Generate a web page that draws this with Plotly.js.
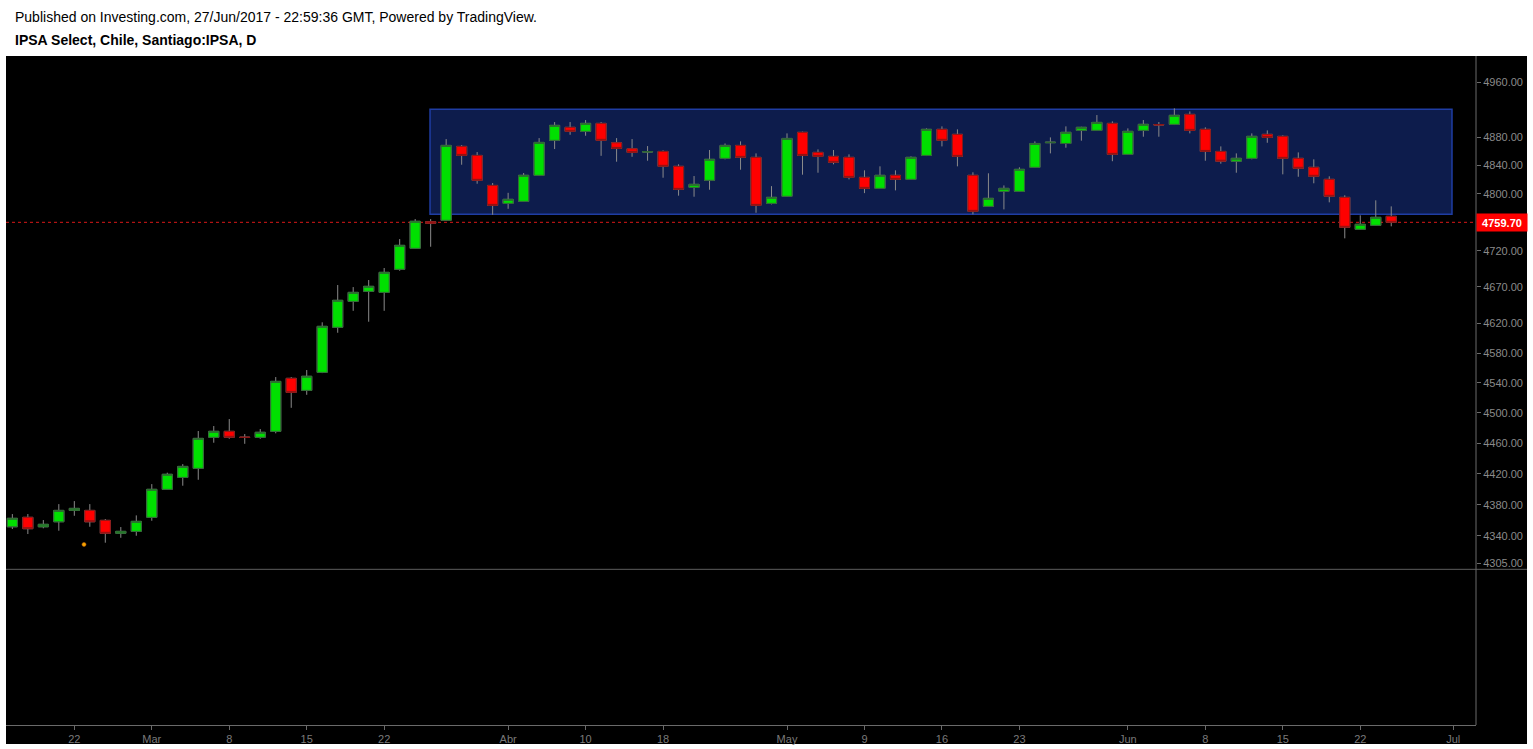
<!DOCTYPE html>
<html>
<head>
<meta charset="utf-8">
<script src="https://cdn.plot.ly/plotly-3.0.1.min.js"></script>
<style>
  html, body { margin: 0; padding: 0; background: #ffffff; }
  #chart { width: 1533px; height: 749px; }
</style>
</head>
<body>
<div id="chart"></div>
<script>
// ---- Data (daily candles, IPSA) ----
const dates = [
  '2017-02-16','2017-02-17','2017-02-20','2017-02-21','2017-02-22','2017-02-23','2017-02-24','2017-02-27','2017-02-28',
  '2017-03-01','2017-03-02','2017-03-03','2017-03-06','2017-03-07','2017-03-08','2017-03-09','2017-03-10',
  '2017-03-13','2017-03-14','2017-03-15','2017-03-16','2017-03-17','2017-03-20','2017-03-21','2017-03-22','2017-03-23','2017-03-24',
  '2017-03-27','2017-03-28','2017-03-29','2017-03-30','2017-03-31',
  '2017-04-03','2017-04-04','2017-04-05','2017-04-06','2017-04-07','2017-04-10','2017-04-11','2017-04-12','2017-04-13',
  '2017-04-17','2017-04-18','2017-04-19','2017-04-20','2017-04-21','2017-04-24','2017-04-25','2017-04-26','2017-04-27',
  '2017-05-02','2017-05-03','2017-05-04','2017-05-05','2017-05-08','2017-05-09','2017-05-10','2017-05-11','2017-05-12',
  '2017-05-15','2017-05-16','2017-05-17','2017-05-18','2017-05-19','2017-05-22','2017-05-23','2017-05-24','2017-05-25','2017-05-26',
  '2017-05-29','2017-05-30','2017-05-31','2017-06-01','2017-06-02','2017-06-05','2017-06-06','2017-06-07','2017-06-08','2017-06-09',
  '2017-06-12','2017-06-13','2017-06-14','2017-06-15','2017-06-16','2017-06-19','2017-06-20','2017-06-21','2017-06-22','2017-06-23',
  '2017-06-27'
];
const openP = [
  4351.6,4363.7,4351.6,4358.0,4372.6,4372.6,4359.8,4343.2,4345.7,
  4363.7,4399.8,4415.3,4427.1,4467.7,4475.6,4468.0,4467.7,
  4475.6,4546.0,4529.9,4554.0,4614.8,4650.2,4663.9,4662.5,4694.3,4723.4,
  4760.6,4762.5,4867.3,4854.4,4811.7,
  4786.3,4789.2,4826.0,4876.0,4894.7,4888.9,4900.4,4872.5,4863.9,
  4859.2,4860.1,4838.8,4808.9,4818.9,4850.2,4868.7,4851.6,4786.3,
  4796.3,4887.5,4858.7,4853.0,4851.6,4823.1,4807.5,4826.0,4820.3,
  4854.4,4891.8,4884.6,4826.0,4782.1,4803.3,4803.3,4837.4,4872.6,4871.5,
  4890.3,4890.3,4900.4,4855.9,4890.3,4898.7,4899.0,4913.4,4891.8,4860.1,
  4846.1,4850.2,4884.6,4881.7,4850.2,4837.4,4820.3,4794.8,4749.9,4755.5,
  4768.1
];
const highP = [
  4367.9,4367.9,4360.2,4380.7,4384.6,4380.7,4361.5,4351.2,4366.2,
  4406.6,4421.4,4432.6,4476.0,4482.6,4491.8,4472.0,4478.6,
  4547.7,4547.7,4557.1,4621.6,4672.6,4669.8,4679.5,4696.1,4736.3,4764.3,
  4764.3,4877.8,4869.1,4859.2,4815.1,
  4801.2,4829.3,4879.2,4902.3,4902.3,4905.2,4902.3,4879.2,4877.8,
  4867.8,4861.6,4841.7,4825.0,4862.1,4871.5,4874.5,4857.3,4810.7,
  4886.0,4888.5,4863.0,4862.1,4855.9,4833.1,4838.8,4833.1,4853.0,
  4893.2,4896.1,4891.8,4830.3,4828.9,4811.7,4837.4,4874.5,4880.2,4896.1,
  4895.5,4912.4,4903.3,4893.2,4905.2,4902.3,4922.1,4917.7,4894.7,4867.3,
  4857.3,4886.0,4890.3,4883.1,4858.7,4848.8,4824.6,4797.7,4769.5,4790.6,
  4782.1
];
const lowP = [
  4348.7,4342.3,4349.6,4346.5,4365.7,4351.6,4331.2,4337.5,4340.1,
  4359.3,4399.0,4404.5,4412.2,4460.6,4465.8,4459.2,4465.8,
  4473.0,4506.7,4524.0,4553.0,4607.4,4637.3,4622.4,4637.3,4692.3,4722.5,
  4725.6,4761.5,4841.1,4814.1,4770.3,
  4778.7,4788.5,4825.0,4863.5,4884.0,4882.6,4853.8,4845.4,4852.4,
  4846.8,4822.6,4797.2,4795.7,4805.6,4848.8,4834.0,4773.1,4784.9,
  4795.5,4826.9,4829.7,4841.7,4820.3,4800.8,4806.8,4804.7,4819.5,
  4853.5,4867.3,4838.8,4770.9,4781.3,4777.9,4802.5,4836.8,4857.3,4865.4,
  4875.5,4889.5,4846.1,4855.0,4881.2,4881.2,4898.0,4886.0,4846.8,4842.6,
  4829.7,4848.8,4872.5,4827.4,4824.0,4814.7,4787.8,4737.3,4749.0,4754.8,
  4754.1
];
const closeP = [
  4362.4,4349.1,4354.7,4372.6,4375.2,4358.0,4343.2,4345.7,4358.5,
  4399.8,4419.3,4429.6,4466.3,4475.6,4467.7,4467.5,4474.3,
  4541.9,4527.2,4548.7,4616.1,4651.6,4662.5,4670.8,4690.1,4727.5,4761.1,
  4758.3,4868.7,4854.4,4818.9,4783.5,
  4792.0,4826.0,4873.0,4897.5,4888.9,4900.4,4876.0,4864.4,4858.7,
  4859.8,4838.8,4806.1,4813.2,4848.8,4868.7,4851.6,4783.5,4794.8,
  4878.7,4854.4,4853.0,4844.5,4823.1,4807.5,4826.0,4820.3,4851.6,
  4891.8,4876.0,4853.0,4775.1,4793.4,4807.5,4834.5,4871.5,4873.2,4887.5,
  4894.7,4901.8,4855.9,4888.9,4899.0,4898.2,4912.0,4890.3,4860.1,4846.1,
  4850.2,4881.7,4880.2,4850.2,4836.0,4824.6,4796.3,4752.7,4756.9,4766.7,
  4759.7
];
const lastPrice = 4759.70;
const nonTradingDays = ['2017-04-14','2017-04-28','2017-05-01','2017-06-26'];

// event marker (small orange dot)
const eventDates = ['2017-02-22 15:00'];
const eventValues = [4329];

// highlighted range box
const boxStart = '2017-03-24 23:00';
const boxEnd = '2017-06-30 22:05';
const boxLow = 4771;
const boxHigh = 4920.7;

// axis ticks
const xTickDates = ['2017-02-22','2017-03-01','2017-03-08','2017-03-15','2017-03-22','2017-04-03','2017-04-10','2017-04-18',
                    '2017-05-02','2017-05-09','2017-05-16','2017-05-23','2017-06-01','2017-06-08','2017-06-15','2017-06-22','2017-07-03'];
const xTickLabels = ['22','Mar','8','15','22','Abr','10','18','May','9','16','23','Jun','8','15','22','Jul'];
const yTickValues = [4305,4340,4380,4420,4460,4500,4540,4580,4620,4670,4720,4800,4840,4880,4960];
const yTickLabels = yTickValues.map(v => v.toFixed(2));

const FONT = 'Arial, "Liberation Sans", sans-serif';

const bodyHigh = openP.map((o, i) => Math.max(o, closeP[i]));
const bodyLow = openP.map((o, i) => Math.min(o, closeP[i]));

const wickTrace = {
  type: 'candlestick', x: dates, open: openP, high: highP, low: lowP, close: closeP,
  increasing: { line: { color: '#8a8a8a', width: 1 }, fillcolor: 'rgba(0,0,0,0)' },
  decreasing: { line: { color: '#8a8a8a', width: 1 }, fillcolor: 'rgba(0,0,0,0)' },
  whiskerwidth: 0, showlegend: false, hoverinfo: 'skip'
};
const bodyTrace = {
  type: 'candlestick', x: dates, open: openP, high: bodyHigh, low: bodyLow, close: closeP,
  increasing: { line: { color: '#2e6633', width: 1 }, fillcolor: '#00e000' },
  decreasing: { line: { color: '#8a1515', width: 1 }, fillcolor: '#ff0000' },
  whiskerwidth: 0, showlegend: false, hoverinfo: 'skip'
};
const eventTrace = {
  type: 'scatter', mode: 'markers', x: eventDates, y: eventValues,
  marker: { size: 4, color: '#f5a300', line: { color: '#c06000', width: 0.5 } },
  showlegend: false, hoverinfo: 'skip'
};

const sepY = 0.2327;
const layout = {
  width: 1533, height: 749, autosize: false,
  margin: { l: 6, r: 57, t: 56, b: 24, pad: 0 },
  paper_bgcolor: '#ffffff', plot_bgcolor: '#000000',
  showlegend: false, hovermode: false,
  boxgap: 0.35, boxgroupgap: 0,
  font: { family: FONT, size: 11, color: '#8a8a8a' },
  xaxis: {
    type: 'date',
    range: ['2017-02-15 14:10', '2017-07-04 11:17'],
    rangebreaks: [ { bounds: ['sat', 'mon'] }, { values: nonTradingDays } ],
    rangeslider: { visible: false },
    tickmode: 'array', tickvals: xTickDates, ticktext: xTickLabels,
    ticks: 'outside', ticklen: 4, tickcolor: '#6a6a6a',
    tickfont: { family: FONT, size: 11, color: '#7a7a7a' },
    showline: true, linecolor: '#6a6a6a', linewidth: 1,
    showgrid: false, zeroline: false,
    anchor: 'free', position: 0, fixedrange: true
  },
  yaxis: {
    type: 'log', domain: [sepY, 1],
    range: [3.633205, 3.698848],
    side: 'right',
    tickmode: 'array', tickvals: yTickValues, ticktext: yTickLabels,
    ticks: 'outside', ticklen: 4, tickcolor: '#6a6a6a',
    tickfont: { family: FONT, size: 11, color: '#8a8a8a' },
    showline: false, showgrid: false, zeroline: false, fixedrange: true
  },
  shapes: [
    { type: 'rect', xref: 'paper', yref: 'paper', x0: 0, x1: 1.0347, y0: -0.0284, y1: 1,
      fillcolor: '#000000', line: { width: 0 }, layer: 'below' },
    { type: 'rect', xref: 'x', yref: 'y', x0: boxStart, x1: boxEnd, y0: boxLow, y1: boxHigh,
      fillcolor: '#0d1c4c', line: { color: '#1f3da3', width: 1.5 }, layer: 'below' },
    { type: 'line', xref: 'paper', yref: 'y', x0: 0, x1: 1, y0: lastPrice, y1: lastPrice,
      line: { color: '#d81818', width: 1, dash: 'dot' }, layer: 'below' },
    { type: 'line', xref: 'paper', yref: 'paper', x0: 0, x1: 1.0347, y0: sepY, y1: sepY,
      line: { color: '#5e5e5e', width: 1 } },
    { type: 'line', xref: 'paper', yref: 'paper', x0: 1, x1: 1, y0: 0, y1: 1,
      line: { color: '#6a6a6a', width: 1 } }
  ],
  annotations: [
    { xref: 'paper', yref: 'paper', x: 0.0048, y: 1.0583, xanchor: 'left', yanchor: 'middle',
      text: 'Published on Investing.com, 27/Jun/2017 - 22:59:36 GMT, Powered by TradingView.',
      showarrow: false, font: { family: FONT, size: 14, color: '#000000' } },
    { xref: 'paper', yref: 'paper', x: 0.0048, y: 1.0239, xanchor: 'left', yanchor: 'middle',
      text: '<b>IPSA Select, Chile, Santiago:IPSA, D</b>',
      showarrow: false, font: { family: FONT, size: 14, color: '#000000' } },
    { xref: 'paper', yref: 'y', x: 1, y: Math.log10(lastPrice), xanchor: 'left', yanchor: 'middle',
      text: '<b>' + lastPrice.toFixed(2) + '</b>', showarrow: false,
      bgcolor: '#ff0000', borderpad: 2, width: 46, height: 13, align: 'center',
      font: { family: FONT, size: 11, color: '#ffffff' } }
  ]
};

Plotly.newPlot('chart', [wickTrace, bodyTrace, eventTrace], layout, { displayModeBar: false, staticPlot: true });
</script>
</body>
</html>
